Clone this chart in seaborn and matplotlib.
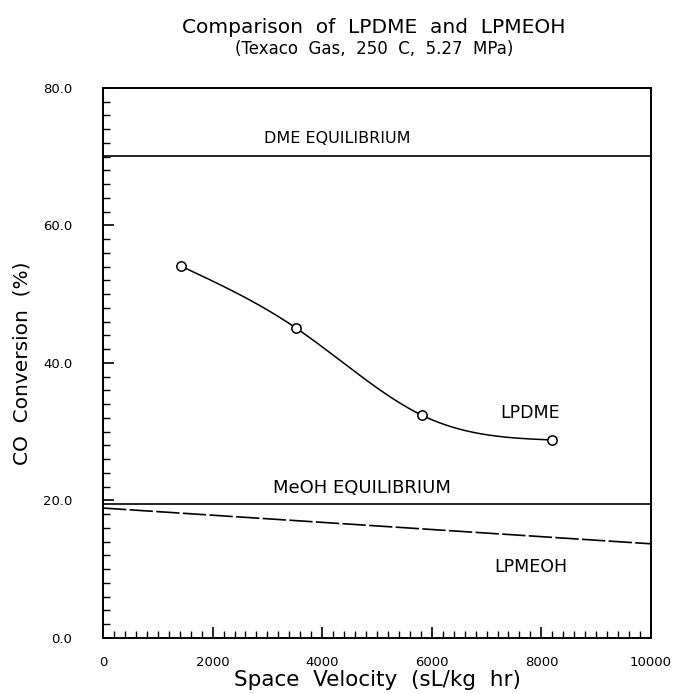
import matplotlib
matplotlib.use("Agg")
import matplotlib.pyplot as plt
import seaborn as sns
import numpy as np
import pandas as pd
from matplotlib.ticker import MultipleLocator

# Data
lpdme_sv = [1420, 3520, 5820, 8190]
lpdme_conv = [54.1, 45.1, 32.4, 28.8]
lpmeoh_sv = [0, 10000]
lpmeoh_conv = [18.9, 13.7]
dme_eq = 70.1
meoh_eq = 19.5
x_ticks = [0, 2000, 4000, 6000, 8000, 10000]
y_ticks = [0, 20, 40, 60, 80]
y_tick_labels = ["0.0", "20.0", "40.0", "60.0", "80.0"]


def smooth_curve(x, y, n=200):
    """Natural cubic spline through the points (rendering of the connecting curve)."""
    x = np.asarray(x, float)
    y = np.asarray(y, float)
    npts = len(x)
    h = np.diff(x)
    d = np.diff(y) / h
    A = np.zeros((npts, npts))
    r = np.zeros(npts)
    A[0, 0] = 1
    A[-1, -1] = 1
    for i in range(1, npts - 1):
        A[i, i - 1] = h[i - 1]
        A[i, i] = 2 * (h[i - 1] + h[i])
        A[i, i + 1] = h[i]
        r[i] = 6 * (d[i] - d[i - 1])
    M = np.linalg.solve(A, r)
    xs = np.linspace(x[0], x[-1], n)
    idx = np.clip(np.searchsorted(x, xs) - 1, 0, npts - 2)
    x0, x1 = x[idx], x[idx + 1]
    hh = h[idx]
    ys = (M[idx] * (x1 - xs) ** 3 / (6 * hh) + M[idx + 1] * (xs - x0) ** 3 / (6 * hh)
          + (y[idx] / hh - M[idx] * hh / 6) * (x1 - xs)
          + (y[idx + 1] / hh - M[idx + 1] * hh / 6) * (xs - x0))
    return xs, ys


sns.set_theme(style="ticks")
plt.rcParams['font.family'] = ['DejaVu Sans']
for k in ["text.color", "axes.labelcolor", "xtick.color", "ytick.color", "axes.edgecolor"]:
    plt.rcParams[k] = "black"

fig = plt.figure(figsize=(6.75, 6.94), dpi=100)
ax = fig.add_axes([0.1526, 0.0807, 0.8118, 0.7925])

df = pd.DataFrame({"sv": lpdme_sv, "conv": lpdme_conv})
cx, cy = smooth_curve(lpdme_sv, lpdme_conv)
sns.lineplot(x=cx, y=cy, color="black", lw=1.1, ax=ax)
sns.scatterplot(data=df, x="sv", y="conv", marker="o", s=45,
                facecolor="white", edgecolor="black", linewidth=1.1, zorder=5, ax=ax)

dm = pd.DataFrame({"sv": lpmeoh_sv, "conv": lpmeoh_conv})
sns.lineplot(data=dm, x="sv", y="conv", color="black", lw=1.2, ax=ax)
ax.lines[-1].set_dashes([14, 2])

ax.axhline(dme_eq, color="black", lw=1.2)
ax.axhline(meoh_eq, color="black", lw=1.2)

ax.text(4270, dme_eq + 1.4, "DME EQUILIBRIUM", ha="center", va="bottom", fontsize=11.5)
ax.text(4730, meoh_eq + 1.0, "MeOH EQUILIBRIUM", ha="center", va="bottom", fontsize=13)
ax.text(7790, 32.7, "LPDME", ha="center", va="center", fontsize=12.5)
ax.text(7810, 10.3, "LPMEOH", ha="center", va="center", fontsize=12.5)

ax.set_xlim(0, 10000)
ax.set_ylim(0, 80)
ax.set_xticks(x_ticks)
ax.set_xticklabels([str(v) for v in x_ticks], fontsize=9.5)
ax.set_yticks(y_ticks)
ax.set_yticklabels(y_tick_labels, fontsize=9.5)
ax.xaxis.set_minor_locator(MultipleLocator(200))
ax.yaxis.set_minor_locator(MultipleLocator(2))
ax.tick_params(axis="both", which="major", direction="in", length=8, width=1.2, colors="black")
ax.tick_params(axis="x", which="major", pad=13)
ax.tick_params(axis="y", which="major", pad=22)
ax.tick_params(axis="both", which="minor", direction="in", length=5, width=1.0, colors="black")
for s in ax.spines.values():
    s.set_linewidth(1.4)
    s.set_color("black")

ax.set_xlabel("Space  Velocity  (sL/kg  hr)", fontsize=15.5, labelpad=1)
ax.set_ylabel("CO  Conversion  (%)", fontsize=14.5, labelpad=8)

fig.text(0.554, 0.961, "Comparison  of  LPDME  and  LPMEOH", ha="center", va="center", fontsize=14.5)
fig.text(0.554, 0.930, "(Texaco  Gas,  250  C,  5.27  MPa)", ha="center", va="center", fontsize=12)

fig.savefig("out.png", dpi=100, facecolor="white")
